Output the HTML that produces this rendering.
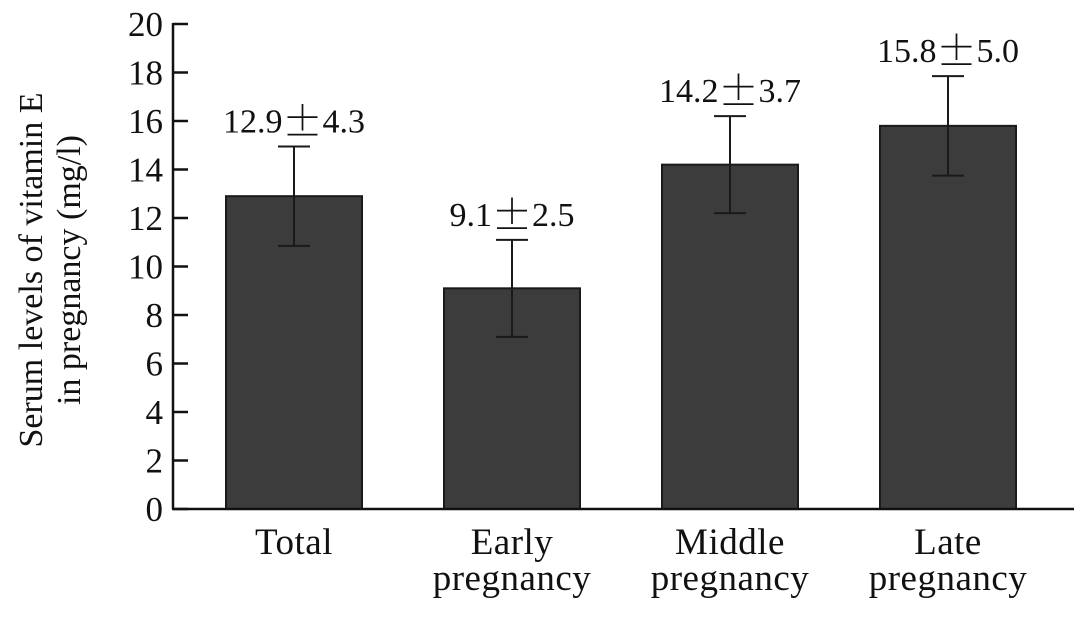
<!DOCTYPE html>
<html><head><meta charset="utf-8"><style>
html,body{margin:0;padding:0;background:#fff;}
svg text{font-family:"Liberation Serif","Noto Serif CJK SC",serif;fill:#111;}
</style></head><body>
<svg id="chart" width="1087" height="613"></svg>
<script>
const categories = [["Total"],["Early","pregnancy"],["Middle","pregnancy"],["Late","pregnancy"]];
const means = [12.9, 9.1, 14.2, 15.8];
const errDrawn = [2.05, 2.0, 2.0, 2.05];
const valueNums = ["12.9","9.1","14.2","15.8"];
const valueSds = ["4.3","2.5","3.7","5.0"];
const yTicks = [0,2,4,6,8,10,12,14,16,18,20];

const NS="http://www.w3.org/2000/svg";
const svg=document.getElementById('chart');
const x0=173, y0=509, yTop=24, yMax=20;
const y=v=>y0-(v/yMax)*(y0-yTop);
const xc=i=>294+i*218;
const bw=136;
function mk(t,a){const e=document.createElementNS(NS,t);for(const k in a)e.setAttribute(k,a[k]);svg.appendChild(e);return e;}
function span(p,txt,font){const s=document.createElementNS(NS,'tspan');if(font)s.setAttribute('font-family',font);s.textContent=txt;p.appendChild(s);return s;}

yTicks.forEach(t=>{
  const l=mk('line',{x1:x0,x2:x0+15,y1:y(t),y2:y(t),stroke:'#111','stroke-width':2.5});
  
  
  const tx=mk('text',{x:x0-10,y:y(t)+12,'text-anchor':'end','font-size':35});
  tx.textContent=t;
  
  
});
means.forEach((m,i)=>{
  const c=xc(i);
  const r=mk('rect',{x:c-bw/2,y:y(m),width:bw,height:y0-y(m),fill:'#3c3c3c',stroke:'#1a1a1a','stroke-width':2});
  
  
  const hi=y(m+errDrawn[i]), lo=y(m-errDrawn[i]);
  const g=[[c,c,hi,lo],[c-16,c+16,hi,hi],[c-16,c+16,lo,lo]];
  g.forEach(p=>{
    const e=mk('line',{x1:p[0],x2:p[1],y1:p[2],y2:p[3],stroke:'#1a1a1a','stroke-width':2});
    
    
  });
  const vl=mk('text',{x:c,y:hi-14,'text-anchor':'middle','font-size':34});
  span(vl,valueNums[i]);
  const pm=span(vl,'\u00B1','"Noto Serif CJK SC","Noto Sans CJK SC",serif');
  pm.setAttribute('font-size',40);pm.setAttribute('dy',3);
  const sd=span(vl,valueSds[i]);sd.setAttribute('dy',-3);
  
  
  categories[i].forEach((s,j)=>{
    const t=mk('text',{x:c,y:554+j*36,'text-anchor':'middle','font-size':37,'letter-spacing':0.5});
    t.textContent=s;
    
    
  });
});
const ax=mk('line',{x1:x0,x2:x0,y1:yTop-1,y2:y0,stroke:'#111','stroke-width':2.5});


const axx=mk('line',{x1:x0-1,x2:1074,y1:y0,y2:y0,stroke:'#111','stroke-width':2.5});


const yt=mk('text',{'text-anchor':'middle','font-size':34});


const t1=document.createElementNS(NS,'tspan');t1.setAttribute('x',0);t1.setAttribute('y',0);t1.textContent='Serum levels of vitamin E';
const t2=document.createElementNS(NS,'tspan');t2.setAttribute('x',0);t2.setAttribute('y',38);t2.textContent='in pregnancy (mg/l)';
yt.appendChild(t1);yt.appendChild(t2);
yt.setAttribute('transform','translate(42,270) rotate(-90)');
</script>
</body></html>
